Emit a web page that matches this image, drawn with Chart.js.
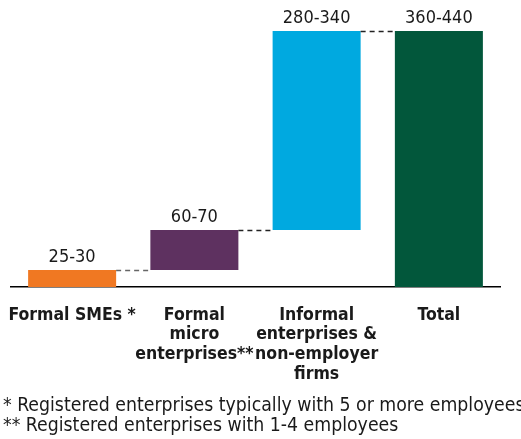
<!DOCTYPE html>
<html><head><meta charset="utf-8">
<script src="https://cdn.jsdelivr.net/npm/chart.js@4/dist/chart.umd.min.js"></script>
<style>
html,body{margin:0;padding:0;background:#fff;}
#wrap{position:relative;width:521px;height:439px;overflow:hidden;}
#wrap canvas{position:absolute;left:0;top:0;}
.fn{position:absolute;left:3px;white-space:nowrap;font-family:"DejaVu Sans Condensed",sans-serif;font-size:19.3px;color:#1a1a1a;line-height:20px;}
</style></head>
<body>
<div id="wrap">
<canvas id="c" width="521" height="439"></canvas>
<div class="fn" style="top:395px">* Registered enterprises typically with 5 or more employees</div>
<div class="fn" style="top:415px">** Registered enterprises with 1-4 employees</div>
</div>
<script>
const categories = [["Formal SMEs *"], ["Formal","micro","enterprises**"], ["Informal","enterprises &","non-employer","firms"], ["Total"]];
const rangeLabels = ["25-30","60-70","280-340","360-440"];
const barStarts = [0, 26.5, 89, 0];
const barEnds = [26.5, 89, 400, 400];
const barColors = ["#F07822","#5E3160","#00A9E0","#02573B"];
const connectorColors = ["#666666","#222222","#222222"];

const FONT = '"DejaVu Sans Condensed",sans-serif';

const overlay = {
  id:'overlay',
  afterDatasetsDraw(chart){
    const ctx = chart.ctx;
    const meta = chart.getDatasetMeta(0);
    const ys = chart.scales.y;
    ctx.save();
    ctx.lineWidth = 1.5;
    ctx.setLineDash([5,4]);
    for(let i=0;i<meta.data.length-1;i++){
      const a = meta.data[i], b = meta.data[i+1];
      const y = Math.round(ys.getPixelForValue(barEnds[i]))+0.5;
      ctx.strokeStyle = connectorColors[i];
      ctx.beginPath();
      ctx.moveTo(a.x + a.width/2, y);
      ctx.lineTo(b.x - b.width/2, y);
      ctx.stroke();
    }
    ctx.setLineDash([]);
    ctx.fillStyle = '#1a1a1a';
    ctx.font = '18px ' + FONT;
    ctx.textAlign = 'center';
    ctx.textBaseline = 'alphabetic';
    meta.data.forEach((bar,i)=>{
      const top = ys.getPixelForValue(barEnds[i]);
      ctx.fillText(rangeLabels[i], bar.x, top - 8);
    });
    ctx.restore();
  }
};

new Chart(document.getElementById('c'), {
  type:'bar',
  data:{
    labels: categories,
    datasets:[{
      data: barStarts.map((s,i)=>[s, barEnds[i]]),
      backgroundColor: barColors,
      borderWidth:0,
      borderSkipped:false,
      categoryPercentage:1,
      barPercentage:0.72
    }]
  },
  options:{
    responsive:false,
    animation:false,
    devicePixelRatio:1,
    layout:{padding:{left:11,right:21,top:31,bottom:0}},
    plugins:{legend:{display:false},tooltip:{enabled:false},title:{display:false}},
    scales:{
      x:{
        grid:{display:false},
        border:{display:true,color:'#000',width:1.5},
        ticks:{
          color:'#1a1a1a',
          font:{family:FONT,size:17.5,weight:'bold',lineHeight:1.14},
          padding:10,
          maxRotation:0,
          autoSkip:false
        },
        afterFit(scale){ scale.height = 439 - 287; scale.paddingLeft = 0; scale.paddingRight = 0; }
      },
      y:{display:false,min:0,max:400}
    }
  },
  plugins:[overlay]
});
</script>
</body></html>
